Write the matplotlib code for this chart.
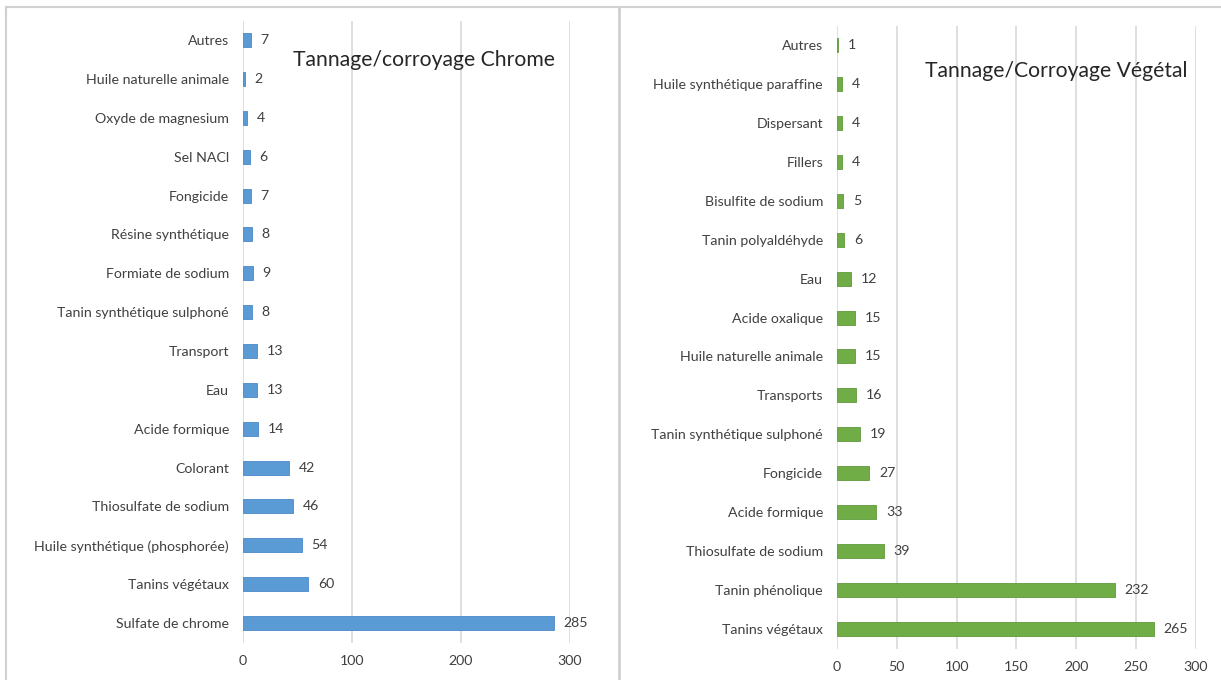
import matplotlib.pyplot as plt
from matplotlib.lines import Line2D

plt.rcParams['font.family'] = ['Lato', 'DejaVu Sans']

# Chrome tanning (top to bottom)
chrome_labels = ['Autres', 'Huile naturelle animale', 'Oxyde de magnesium', 'Sel NACl',
                 'Fongicide', 'Résine synthétique', 'Formiate de sodium',
                 'Tanin synthétique sulphoné', 'Transport', 'Eau', 'Acide formique',
                 'Colorant', 'Thiosulfate de sodium', 'Huile synthétique (phosphorée)',
                 'Tanins végétaux', 'Sulfate de chrome']
chrome_values = [7, 2, 4, 6, 7, 8, 9, 8, 13, 13, 14, 42, 46, 54, 60, 285]
chrome_ticks = [0, 100, 200, 300]

# Vegetable tanning (top to bottom)
veg_labels = ['Autres', 'Huile synthétique paraffine', 'Dispersant', 'Fillers',
              'Bisulfite de sodium', 'Tanin polyaldéhyde', 'Eau', 'Acide oxalique',
              'Huile naturelle animale', 'Transports', 'Tanin synthétique sulphoné',
              'Fongicide', 'Acide formique', 'Thiosulfate de sodium',
              'Tanin phénolique', 'Tanins végétaux']
veg_values = [1, 4, 4, 4, 5, 6, 12, 15, 15, 16, 19, 27, 33, 39, 232, 265]
veg_ticks = [0, 50, 100, 150, 200, 250, 300]

grid_color = '#d9d9d9'
label_color = '#404040'
fs = 10.2

fig = plt.figure(figsize=(12.21, 6.80), dpi=100)


def draw_panel(rect, labels, values, ticks, color, edge, title, title_xy):
    ax = fig.add_axes(rect)
    pos = range(len(labels))
    bars = ax.barh(pos, values, height=0.36, color=color, edgecolor=edge, linewidth=0.6)
    ax.set_ylim(len(labels) - 0.5, -0.5)
    ax.set_xlim(ticks[0], ticks[-1])
    ax.set_yticks(list(pos))
    ax.set_yticklabels(labels, fontsize=fs, color=label_color)
    ax.set_xticks(ticks)
    ax.set_xticklabels([str(t) for t in ticks], fontsize=fs, color=label_color)
    ax.tick_params(axis='both', length=0)
    ax.tick_params(axis='y', pad=10)
    ax.tick_params(axis='x', pad=9)
    for s in ax.spines.values():
        s.set_visible(False)
    ax.grid(axis='x', color=grid_color, linewidth=1.2)
    ax.set_axisbelow(True)
    for b, v in zip(bars, values):
        ax.annotate(str(v), (b.get_width(), b.get_y() + b.get_height() / 2),
                    xytext=(7, 0), textcoords='offset points', va='center', ha='left',
                    fontsize=fs, color=label_color)
    fig.text(title_xy[0], title_xy[1], title, fontsize=15.2, color='#262626',
             ha='left', va='center')
    return ax


draw_panel([0.199, 0.0551, 0.2678, 0.9146], chrome_labels, chrome_values, chrome_ticks,
           '#5b9bd5', '#4a89c8', 'Tannage/corroyage Chrome', (293 / 1221, 1 - 60 / 680))
draw_panel([0.6855, 0.0463, 0.2940, 0.9162], veg_labels, veg_values, veg_ticks,
           '#70ad47', '#5f9b3a', 'Tannage/Corroyage Végétal', (925 / 1221, 1 - 71 / 680))

# panel borders
border = '#d0d0d0'
fig.add_artist(Line2D([6 / 1221, 1], [1 - 7 / 680, 1 - 7 / 680], color=border, lw=1.5))
fig.add_artist(Line2D([6 / 1221, 6 / 1221], [0, 1 - 7 / 680], color=border, lw=1.5))
fig.add_artist(Line2D([619 / 1221, 619 / 1221], [0, 1 - 7 / 680], color=border, lw=2))

fig.savefig('out.png', dpi=100)
